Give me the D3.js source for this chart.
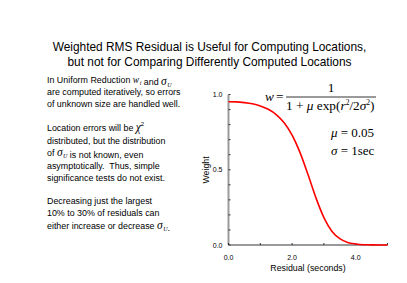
<!DOCTYPE html>
<html>
<head>
<meta charset="utf-8">
<script src="https://cdn.jsdelivr.net/npm/d3@7"></script>
<style>
  body { margin: 0; background: #fff; }
  svg { display: block; }
  .sans { font-family: "Liberation Sans", Arial, Helvetica, sans-serif; fill: #000; }
  .serif { font-family: "Liberation Serif", "Times New Roman", serif; fill: #000; }
</style>
</head>
<body>
<svg id="chart" width="407" height="283"></svg>
<script>
// residual (seconds) and weight
var residuals = [0, 0.25, 0.5, 0.75, 1.0, 1.25, 1.5, 1.75, 2.0, 2.25, 2.5, 2.75, 3.0, 3.25, 3.5, 3.75, 4.0, 4.25, 4.5, 4.75, 5.0];
var weights = [0.952, 0.951, 0.946, 0.938, 0.924, 0.902, 0.867, 0.812, 0.730, 0.614, 0.468, 0.313, 0.182, 0.092, 0.042, 0.017, 0.007, 0.002, 0.001, 0.0003, 0.0001];

var xTicks = [0, 1, 2, 3, 4, 5];
var xTickLabels = [0, 2, 4];
var yTicks = [0, 0.1, 0.2, 0.3, 0.4, 0.5, 0.6, 0.7, 0.8, 0.9, 1.0];
var yTickLabels = [0, 0.5, 1.0];

var titleLines = [
  "Weighted RMS Residual is Useful for Computing Locations,",
  "but not for Comparing Differently Computed Locations"
];

var svg = d3.select('#chart');
svg.append('rect').attr('width', 407).attr('height', 283).attr('fill', '#fff');

// title
svg.selectAll('text.title')
    .data(titleLines)
    .enter()
    .append('text')
    .attr('class', 'title sans')
    .attr('x', 209.5)
    .attr('y', function(d, i) { return 51 + i * 14.5; })
    .attr('text-anchor', 'middle')
    .attr('font-size', 11.9)
    .text(function(d) { return d; });

// left hand notes, some pieces are math (serif italic)
var notes = [
  [['In Uniform Reduction '], ['w', 'i'], [' and '], ['σ', 'U']],
  [['are computed iteratively, so errors']],
  [['of unknown size are handled well.']],
  null,
  [['Location errors will be '], ['χ', null, '2']],
  [['distributed, but the distribution']],
  [['of '], ['σ', 'U'], [' is not known, even']],
  [['asymptotically.  Thus, simple']],
  [['significance tests do not exist.']],
  null,
  [['Decreasing just the largest']],
  [['10% to 30% of residuals can']],
  [['either increase or decrease '], ['σ', 'U'], ['.']]
];
var noteY = [83, 95, 107, 0, 131, 143.5, 156, 168.5, 181, 0, 204, 216, 228.5];

notes.forEach(function(line, i) {
    if (!line) return;
    var t = svg.append('text')
        .attr('class', 'sans')
        .attr('x', 47)
        .attr('y', noteY[i])
        .attr('font-size', 8.9)
        .attr('xml:space', 'preserve');
    line.forEach(function(part) {
        if (part.length == 1) {
            t.append('tspan').text(part[0]);
            return;
        }
        t.append('tspan')
            .attr('font-family', '"Liberation Serif", "Times New Roman", serif')
            .attr('font-style', 'italic')
            .attr('font-size', part[0] == 'w' ? 9.5 : 11.5)
            .text(part[0]);
        if (part[1]) {
            t.append('tspan')
                .attr('font-family', '"Liberation Serif", "Times New Roman", serif')
                .attr('font-style', 'italic')
                .attr('font-size', 6)
                .attr('dx', 0.5)
                .attr('dy', 2)
                .text(part[1]);
            t.append('tspan').attr('dy', -2).text('');
        }
        if (part[2]) {
            t.append('tspan')
                .attr('font-size', 6)
                .attr('dy', -5)
                .text(part[2]);
            t.append('tspan').attr('dy', 5).text('');
        }
    });
});

// plot
var x = d3.scaleLinear().domain([0, 5]).range([228.5, 387.5]);
var y = d3.scaleLinear().domain([0, 1]).range([245, 94.5]);

var g = svg.append('g');

// axis lines
g.append('line')
    .attr('x1', x(0)).attr('x2', x(5))
    .attr('y1', y(0)).attr('y2', y(0))
    .attr('stroke', '#9a9a9a').attr('stroke-width', 2);
g.append('line')
    .attr('x1', x(0)).attr('x2', x(0))
    .attr('y1', y(0)).attr('y2', y(1))
    .attr('stroke', '#9a9a9a').attr('stroke-width', 2);

// tick marks
g.selectAll('line.xt')
    .data(xTicks)
    .enter()
    .append('line')
    .attr('class', 'xt')
    .attr('x1', function(d) { return x(d); })
    .attr('x2', function(d) { return x(d); })
    .attr('y1', y(0))
    .attr('y2', y(0) - 2)
    .attr('stroke', '#333').attr('stroke-width', 1);
g.selectAll('line.yt')
    .data(yTicks)
    .enter()
    .append('line')
    .attr('class', 'yt')
    .attr('x1', x(0))
    .attr('x2', x(0) + 2)
    .attr('y1', function(d) { return y(d); })
    .attr('y2', function(d) { return y(d); })
    .attr('stroke', '#333').attr('stroke-width', 1);

// tick labels
g.selectAll('text.xl')
    .data(xTickLabels)
    .enter()
    .append('text')
    .attr('class', 'xl sans')
    .attr('x', function(d) { return x(d); })
    .attr('y', y(0) + 15)
    .attr('text-anchor', 'middle')
    .attr('font-size', 7)
    .attr('fill', '#333')
    .text(function(d) { return d3.format('.1f')(d); });
g.selectAll('text.yl')
    .data(yTickLabels)
    .enter()
    .append('text')
    .attr('class', 'yl sans')
    .attr('x', x(0) - 6)
    .attr('y', function(d) { return y(d) + 2.5; })
    .attr('text-anchor', 'end')
    .attr('font-size', 7)
    .attr('fill', '#333')
    .text(function(d) { return d3.format('.1f')(d); });

// axis titles
svg.append('text')
    .attr('class', 'sans')
    .attr('x', 308)
    .attr('y', 271)
    .attr('text-anchor', 'middle')
    .attr('font-size', 8.8)
    .text('Residual (seconds)');
svg.append('text')
    .attr('class', 'sans')
    .attr('transform', 'translate(209,170) rotate(-90)')
    .attr('text-anchor', 'middle')
    .attr('font-size', 8.8)
    .text('Weight');

// curve
var pts = residuals.map(function(r, i) { return [r, weights[i]]; });
g.append('path')
    .datum(pts)
    .attr('fill', 'none')
    .attr('stroke', '#ff0000')
    .attr('stroke-width', 1.6)
    .attr('d', d3.line()
        .x(function(d) { return x(d[0]); })
        .y(function(d) { return y(d[1]); })
        .curve(d3.curveMonotoneX));

// formula
var f = svg.append('g').attr('class', 'serif').attr('font-size', 13.3);
f.append('text').attr('x', 265).attr('y', 101).attr('font-style', 'italic').text('w');
f.append('text').attr('x', 276).attr('y', 101).text('=');
f.append('text').attr('x', 331).attr('y', 92).attr('text-anchor', 'middle').text('1');
f.append('line').attr('x1', 286).attr('x2', 376).attr('y1', 97).attr('y2', 97)
    .attr('stroke', '#000').attr('stroke-width', 0.8);
var den = f.append('text').attr('x', 286).attr('y', 110).attr('xml:space', 'preserve');
den.append('tspan').text('1 + ');
den.append('tspan').attr('font-style', 'italic').text('μ');
den.append('tspan').text(' exp(');
den.append('tspan').attr('font-style', 'italic').text('r');
den.append('tspan').attr('font-size', 7.5).attr('dy', -5).text('2');
den.append('tspan').attr('dy', 5).text('/2');
den.append('tspan').attr('font-style', 'italic').text('σ');
den.append('tspan').attr('font-size', 7.5).attr('dy', -5).text('2');
den.append('tspan').attr('dy', 5).text(')');

var p1 = f.append('text').attr('x', 331).attr('y', 137).attr('font-size', 13).attr('xml:space', 'preserve');
p1.append('tspan').attr('font-style', 'italic').text('μ');
p1.append('tspan').text(' = 0.05');
var p2 = f.append('text').attr('x', 331).attr('y', 155).attr('font-size', 13).attr('xml:space', 'preserve');
p2.append('tspan').attr('font-style', 'italic').text('σ');
p2.append('tspan').text(' = 1sec');
</script>
</body>
</html>
